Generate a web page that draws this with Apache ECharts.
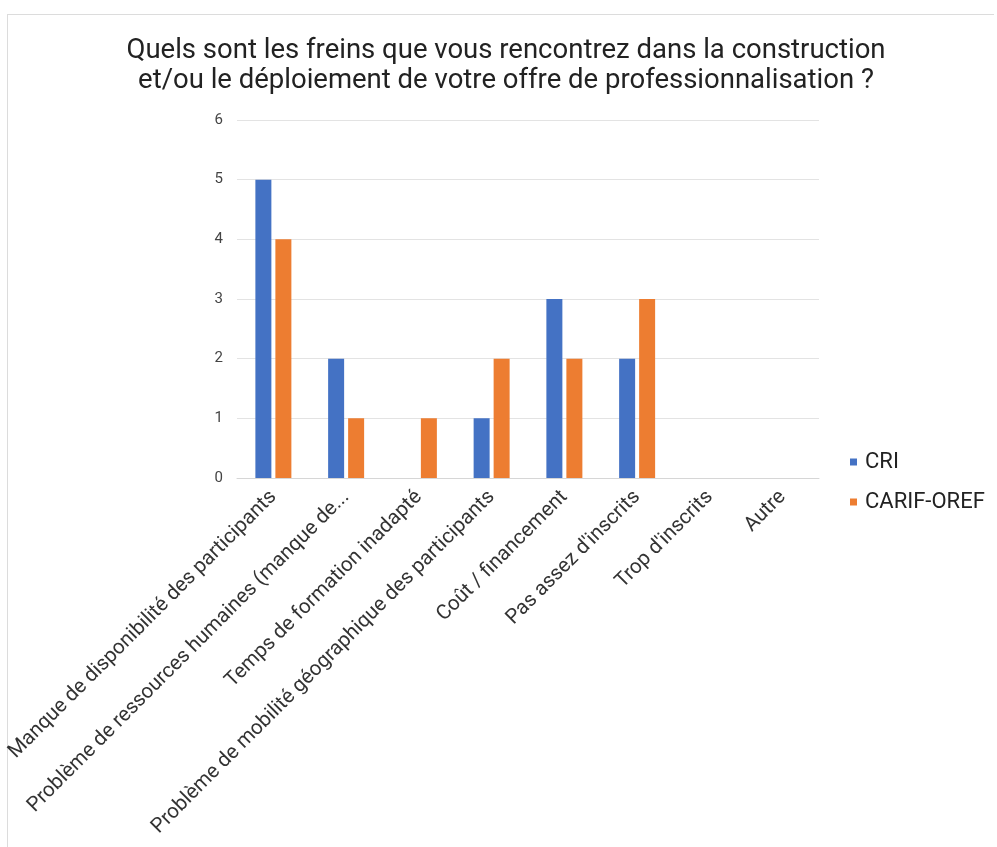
<!DOCTYPE html>
<html>
<head>
<meta charset="utf-8">
<script src="https://cdn.jsdelivr.net/npm/echarts@6/dist/echarts.min.js"></script>
<style>
  body { margin: 0; background: #fff; }
  #frame { position: absolute; left: 7px; top: 14px; right: 3px; bottom: 0; border-left: 1px solid #dcdcdc; border-top: 1px solid #dcdcdc; }
  #chart { position: absolute; left: 0; top: 0; width: 997px; height: 847px; }
</style>
</head>
<body>
<div id="frame"></div>
<div id="chart"></div>
<script>
var titleText = 'Quels sont les freins que vous rencontrez dans la construction\net/ou le déploiement de votre offre de professionnalisation ?'
var categories = [
  'Manque de disponibilité des participants',
  'Problème de ressources humaines (manque de...',
  'Temps de formation inadapté',
  'Problème de mobilité géographique des participants',
  'Coût / financement',
  'Pas assez d\'inscrits',
  'Trop d\'inscrits',
  'Autre'
]
var criValues = [5, 2, 0, 1, 3, 2, 0, 0]
var carifValues = [4, 1, 1, 2, 2, 3, 0, 0]
var seriesNames = ['CRI', 'CARIF-OREF']

var myChart = echarts.init(document.getElementById('chart'))
var option = {
  backgroundColor: 'transparent',
  textStyle: { fontFamily: 'Roboto' },
  title: {
    text: titleText,
    left: 501,
    textAlign: 'center',
    top: 31,
    textStyle: { fontSize: 27.5, fontWeight: 'normal', color: '#222', lineHeight: 30, fontFamily: 'Roboto' }
  },
  color: ['#4472C4', '#ED7D31'],
  legend: {
    orient: 'vertical',
    left: 845,
    top: 446,
    itemWidth: 7,
    itemHeight: 7,
    itemGap: 18,
    icon: 'rect',
    textStyle: { fontSize: 22, color: '#222', fontFamily: 'Roboto', padding: [0, 0, 0, 3] },
    data: seriesNames
  },
  grid: { left: 237, right: 178, top: 120, bottom: 369 },
  xAxis: {
    type: 'category',
    data: categories,
    axisLine: { lineStyle: { color: '#d6d6d6', width: 1 } },
    axisTick: { show: false },
    axisLabel: { rotate: 45, interval: 0, fontSize: 20.5, color: '#333', margin: 16, fontFamily: 'Roboto' }
  },
  yAxis: {
    type: 'value',
    min: 0,
    max: 6,
    interval: 1,
    axisLine: { show: false },
    axisTick: { show: false },
    axisLabel: { fontSize: 15, color: '#444', margin: 14, fontFamily: 'Roboto' },
    splitLine: { lineStyle: { color: '#e3e3e3' } }
  },
  series: [
    { name: seriesNames[0], type: 'bar', data: criValues, barWidth: 16, barGap: '25%' },
    { name: seriesNames[1], type: 'bar', data: carifValues, barWidth: 16, barGap: '25%' }
  ]
}
myChart.setOption(option)
window.onresize = function() {
  myChart.resize()
}
</script>
</body>
</html>
